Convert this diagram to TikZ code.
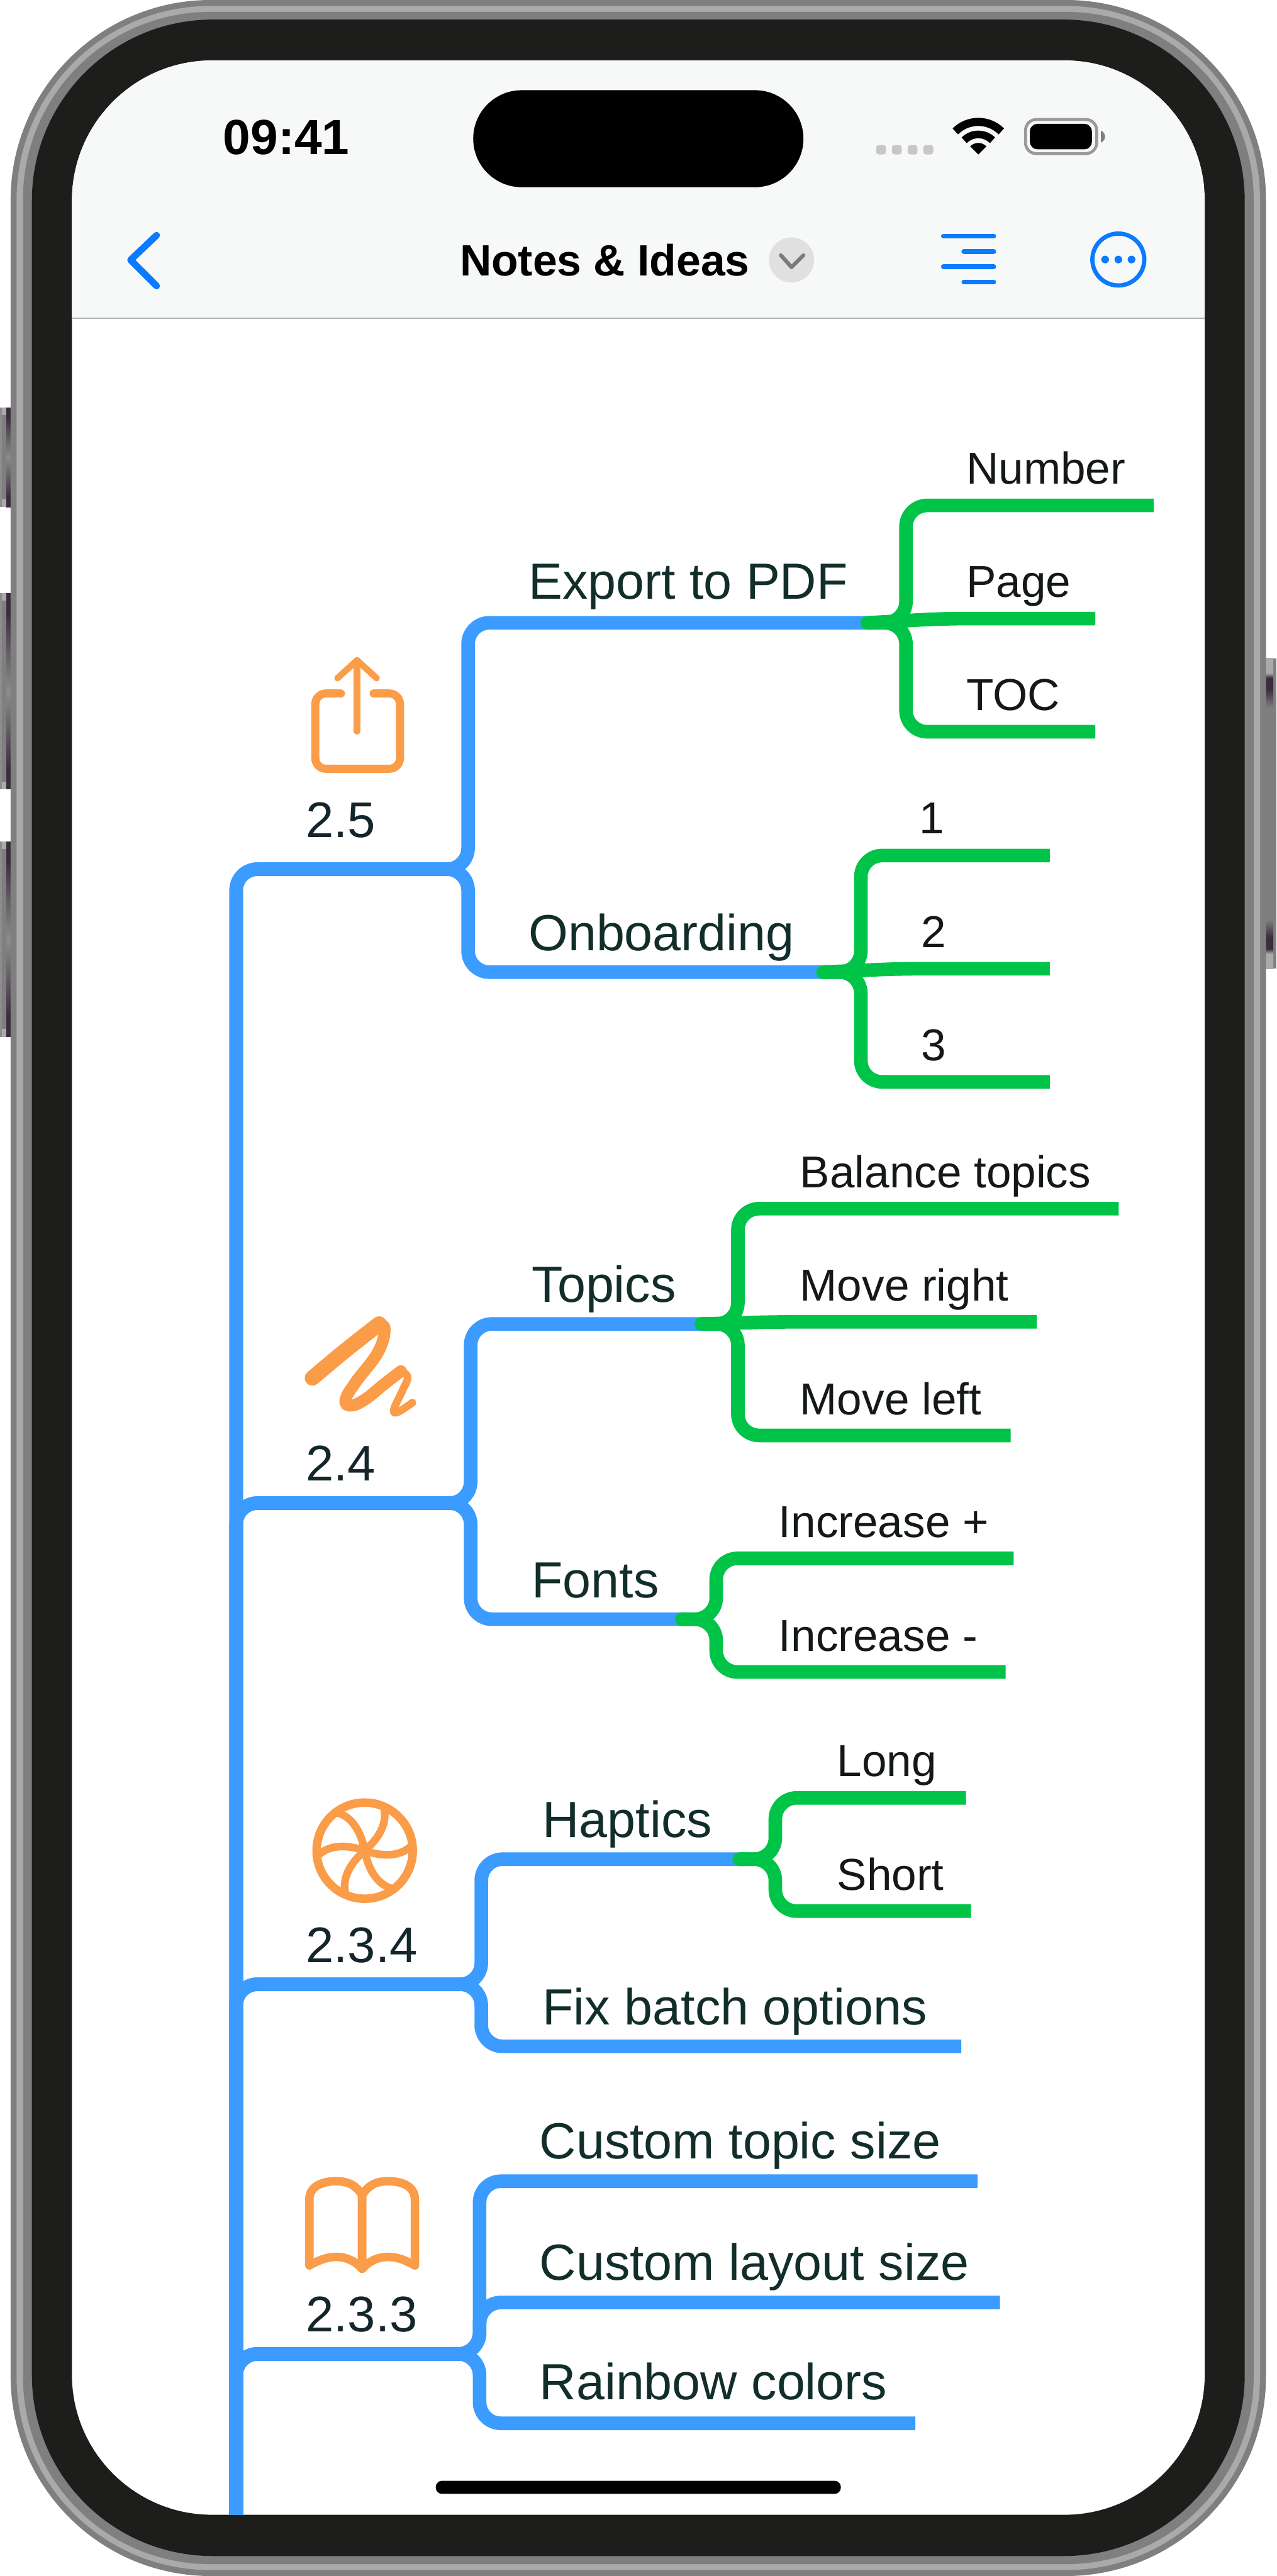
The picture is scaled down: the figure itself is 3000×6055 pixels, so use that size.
\documentclass[tikz,border=0pt]{standalone}
\usepackage{fontspec}
\setmainfont{Liberation Sans}
\definecolor{bodygray}{RGB}{127,127,127}
\definecolor{bodylight}{RGB}{170,170,170}
\definecolor{bezel}{RGB}{29,29,27}
\definecolor{navbg}{RGB}{247,248,248}
\definecolor{iosblue}{RGB}{10,122,255}
\definecolor{mapblue}{RGB}{59,155,255}
\definecolor{mapgreen}{RGB}{0,196,72}
\definecolor{iconorange}{RGB}{250,156,72}
\definecolor{labdark}{RGB}{18,46,42}
\definecolor{subdark}{RGB}{21,24,24}
\definecolor{rootdark}{RGB}{20,38,44}
\definecolor{btndark}{RGB}{58,44,60}
\definecolor{btnmid}{RGB}{140,140,140}
\pgfdeclareverticalshading{leftbtn}{100bp}{color(0bp)=(btndark); color(30bp)=(btndark); color(50bp)=(btnmid); color(70bp)=(btndark); color(100bp)=(btndark)}
\pgfdeclareverticalshading{rightbtn}{100bp}{color(0bp)=(bodylight); color(27.4bp)=(bodylight); color(28.2bp)=(btndark); color(30bp)=(btndark); color(33bp)=(bodygray); color(67bp)=(bodygray); color(70bp)=(btndark); color(71.8bp)=(btndark); color(72.6bp)=(bodylight); color(100bp)=(bodylight)}
\newcommand{\sidebtn}[2]{
  \fill [btnmid] (0,#1) rectangle (25,#2);
  \fill [bodygray] (5,#1) rectangle (15,#2);
  \shade [shading=leftbtn] (15,#1) rectangle (25,#2);
  \fill [bodylight] (5,#1) rectangle (15,#1+18);
  \fill [bodylight] (5,#2-18) rectangle (15,#2);
}
\tikzset{
  bluebranch/.style={line width=3.2mm, mapblue, rounded corners=5mm},
  greenbranch/.style={line width=3.2mm, mapgreen, rounded corners=5mm},
  toplabel/.style={anchor=base west, inner sep=0pt, outer sep=0pt, text=labdark, font=\fontsize{34}{40}\selectfont},
  sublabel/.style={anchor=base west, inner sep=0pt, outer sep=0pt, text=subdark, font=\fontsize{29.9}{36}\selectfont},
  rootlabel/.style={anchor=base west, inner sep=0pt, outer sep=0pt, text=rootdark, font=\fontsize{33.5}{40}\selectfont},
  iconline/.style={line width=1.9mm, iconorange, line cap=round, line join=round},
  navicon/.style={iosblue, line cap=round, line join=round},
}
\begin{document}
\begin{tikzpicture}[x=0.1mm,y=-0.1mm]
\useasboundingbox (0,0) rectangle (3000,6055);
% side buttons
\sidebtn{958}{1192}
\sidebtn{1394}{1855}
\sidebtn{1978}{2437}
\fill [bodygray] (2974,1547) rectangle (3000,2277);
\shade [shading=rightbtn] (2974,1547) rectangle (2992,2277);
% phone body
\fill [bodygray, rounded corners=47mm] (25,0) rectangle (2975,6055);
\fill [bodylight, rounded corners=45.6mm] (39,14) rectangle (2961,6041);
\fill [bodygray, rounded corners=44mm] (54,28) rectangle (2946,6027);
\fill [bezel, rounded corners=42.5mm] (75,46) rectangle (2925,6008);
\fill [white, rounded corners=33mm] (169,142) rectangle (2831,5911);
\begin{scope}
\clip [rounded corners=33mm] (169,142) rectangle (2831,5911);
\fill [navbg] (169,142) rectangle (2831,748);
\draw [line width=0.4mm, black!30] (169,748) -- (2831,748);
\end{scope}
% status bar
\fill [rounded corners=11.4mm] (1112,212) rectangle (1888,440);
\node [anchor=base west, inner sep=0pt, font=\fontsize{33}{38}\selectfont\bfseries] (clock) at (524,363) {09:41};
\foreach \x in {2059,2096,2133,2170}
  \fill [black!22, rounded corners=0.6mm] (\x,341) rectangle (\x+23,363);
\begin{scope}[shift={(2299,363)}]
\draw [line width=1.9mm] (-135:76.5) arc [start angle=-135, end angle=-45, radius=76.5];
\draw [line width=1.8mm] (-135:47) arc [start angle=-135, end angle=-45, radius=47];
\fill (0,0) -- (-135:27) arc [start angle=-135, end angle=-45, radius=27] -- cycle;
\end{scope}
\draw [line width=0.7mm, black!40, rounded corners=2.5mm] (2410,281) rectangle (2577,361);
\fill [rounded corners=1.8mm] (2420,291) rectangle (2566,351);
\fill [black!50] (2587,307) .. controls (2600,312) and (2600,330) .. (2587,335) -- cycle;
% nav bar
\draw [navicon, line width=1.6mm] (368,553) -- (307,611) -- (368,672);
\node [anchor=base west, inner sep=0pt, font=\fontsize{29.3}{35}\selectfont\bfseries] (title) at (1080,648) {Notes \& Ideas};
\fill [black!12] (1860,611) circle (5.3mm);
\draw [line width=0.9mm, black!52, line cap=round, line join=round] (1835,600) -- (1860,628) -- (1888,600);
\draw [navicon, line width=1.15mm] (2217,555) -- (2335,555);
\draw [navicon, line width=1.15mm] (2265,591) -- (2335,591);
\draw [navicon, line width=1.15mm] (2217,627) -- (2335,627);
\draw [navicon, line width=1.15mm] (2265,663) -- (2335,663);
\draw [navicon, line width=1mm] (2628,610) circle (6.1mm);
\fill [iosblue] (2597,610) circle (0.9mm);
\fill [iosblue] (2628,610) circle (0.9mm);
\fill [iosblue] (2659,610) circle (0.9mm);
\fill [rounded corners=1.5mm] (1024,5831) rectangle (1976,5862);
% icons
\draw [iconline, rounded corners=2.5mm] (801,1630) -- (741,1630) -- (741,1807) -- (940,1807) -- (940,1630) -- (878,1630);
\draw [iconline, line width=1.5mm] (839,1719) -- (839,1552);
\draw [iconline, line width=1.5mm] (793,1594) -- (839,1552) -- (885,1594);
\draw [iconline, line width=3.6mm] plot [smooth, tension=0.7] coordinates {(734,3239) (812,3174) (891,3112)};
\draw [iconline, line width=2.8mm] plot [smooth, tension=0.7] coordinates {(891,3112) (904,3125) (888,3179) (835,3250) (812,3290) (824,3304) (857,3290) (902,3254) (942,3223)};
\draw [iconline, line width=1.8mm] plot [smooth, tension=0.7] coordinates {(942,3223) (958,3237) (946,3268) (926,3312) (935,3319) (969,3297)};
\begin{scope}[shift={(857,4350)}]
\draw [iconline, line width=2mm] (0,0) circle (11.3mm);
\foreach \a in {0,60,...,300}
  \draw [iconline, line width=1.8mm, rotate=\a] (0,0) .. controls (40,14) and (85,16) .. (112,-14);
\end{scope}
\foreach \s in {1,-1}
  \draw [iconline, line width=2mm, shift={(851,0)}, xscale=\s] (0,5160) .. controls (-13,5138) and (-31,5127) .. (-61,5127) .. controls (-96,5127) and (-124,5140) .. (-124,5170) -- (-124,5325) .. controls (-106,5315) and (-86,5305) .. (-61,5305) .. controls (-36,5305) and (-16,5315) .. (0,5333) -- cycle;
% map nodes
\node [rootlabel] (n25) at (719,1969) {2.5};
\node [rootlabel] (n24) at (719,3480) {2.4};
\node [rootlabel] (n234) at (719,4613) {2.3.4};
\node [rootlabel] (n233) at (719,5480) {2.3.3};
\node [toplabel] (export) at (1242,1408) {Export to PDF};
\node [toplabel] (onboard) at (1242,2234) {Onboarding};
\node [toplabel] (topics) at (1250,3060) {Topics};
\node [toplabel] (fonts) at (1250,3755) {Fonts};
\node [toplabel] (haptics) at (1275,4319) {Haptics};
\node [toplabel] (fix) at (1275,4759) {Fix batch options};
\node [toplabel] (ctopic) at (1268,5074) {Custom topic size};
\node [toplabel] (clayout) at (1268,5360) {Custom layout size};
\node [toplabel] (rainbow) at (1268,5640) {Rainbow colors};
\node [sublabel] (number) at (2271,1137) {Number};
\node [sublabel] (page) at (2271,1403) {Page};
\node [sublabel] (toc) at (2271,1669) {TOC};
\node [sublabel] (one) at (2160,1959) {1};
\node [sublabel] (two) at (2165,2227) {2};
\node [sublabel] (three) at (2165,2493) {3};
\node [sublabel] (balance) at (1880,2792) {Balance topics};
\node [sublabel] (mright) at (1880,3058) {Move right};
\node [sublabel] (mleft) at (1880,3325) {Move left};
\node [sublabel] (incplus) at (1830,3614) {Increase +};
\node [sublabel] (incminus) at (1830,3881) {Increase -};
\node [sublabel] (long) at (1967,4175) {Long};
\node [sublabel] (short) at (1967,4443) {Short};
% branch points
\coordinate (base) at (555,5911);
\coordinate (j25) at (1100,2043);
\coordinate (j24) at (1106,3533);
\coordinate (j234) at (1131,4664);
\coordinate (j233) at (1127,5533);
\coordinate (exportEnd) at (2050,1464);
\coordinate (onboardEnd) at (1946,2285);
\coordinate (topicsEnd) at (1660,3112);
\coordinate (fontsEnd) at (1615,3806);
\coordinate (hapticsEnd) at (1750,4370);
\coordinate (fixEnd) at (2259,4810);
\coordinate (ctopicEnd) at (2297,5127);
\coordinate (clayoutEnd) at (2350,5412);
\coordinate (rainbowEnd) at (2151,5696);
% blue branches
\draw [bluebranch] (base) |- (j25) |- (exportEnd);
\draw [bluebranch] (base) |- (j25) |- (onboardEnd);
\draw [bluebranch] (base) |- (j24) |- (topicsEnd);
\draw [bluebranch] (base) |- (j24) |- (fontsEnd);
\draw [bluebranch] (base) |- (j234) |- (hapticsEnd);
\draw [bluebranch] (base) |- (j234) |- (fixEnd);
\draw [bluebranch] (base) |- (j233) |- (ctopicEnd);
\draw [bluebranch] (base) |- (j233) |- (clayoutEnd);
\draw [bluebranch] (base) |- (j233) |- (rainbowEnd);
% green branches
\coordinate (sExport) at (2038,1464);
\coordinate (gExport) at (2129,1464);
\coordinate (pageMid) at (2216,1454);
\coordinate (numberEnd) at (2711,1188);
\coordinate (pageEnd) at (2574,1454);
\coordinate (tocEnd) at (2574,1720);
\fill [mapgreen] (sExport) circle (1.6mm);
\draw [greenbranch] (sExport) -- (gExport) |- (numberEnd);
\draw [greenbranch] (sExport) -- (gExport) |- (tocEnd);
\draw [greenbranch] (sExport) -- (pageMid) -- (pageEnd);
\coordinate (sOnboard) at (1934,2285);
\coordinate (gOnboard) at (2023,2285);
\coordinate (twoMid) at (2112,2277);
\coordinate (oneEnd) at (2467,2011);
\coordinate (twoEnd) at (2467,2277);
\coordinate (threeEnd) at (2467,2543);
\fill [mapgreen] (sOnboard) circle (1.6mm);
\draw [greenbranch] (sOnboard) -- (gOnboard) |- (oneEnd);
\draw [greenbranch] (sOnboard) -- (gOnboard) |- (threeEnd);
\draw [greenbranch] (sOnboard) -- (twoMid) -- (twoEnd);
\coordinate (sTopics) at (1648,3112);
\coordinate (gTopics) at (1734,3112);
\coordinate (rightMid) at (1825,3107);
\coordinate (balanceEnd) at (2629,2841);
\coordinate (rightEnd) at (2436,3107);
\coordinate (leftEnd) at (2375,3374);
\fill [mapgreen] (sTopics) circle (1.6mm);
\draw [greenbranch] (sTopics) -- (gTopics) |- (balanceEnd);
\draw [greenbranch] (sTopics) -- (gTopics) |- (leftEnd);
\draw [greenbranch] (sTopics) -- (rightMid) -- (rightEnd);
\coordinate (sFonts) at (1602,3806);
\coordinate (gFonts) at (1683,3806);
\coordinate (plusEnd) at (2382,3663);
\coordinate (minusEnd) at (2363,3930);
\fill [mapgreen] (sFonts) circle (1.6mm);
\draw [greenbranch] (sFonts) -- (gFonts) |- (plusEnd);
\draw [greenbranch] (sFonts) -- (gFonts) |- (minusEnd);
\coordinate (sHaptics) at (1737,4370);
\coordinate (gHaptics) at (1822,4370);
\coordinate (longEnd) at (2270,4226);
\coordinate (shortEnd) at (2282,4492);
\fill [mapgreen] (sHaptics) circle (1.6mm);
\draw [greenbranch] (sHaptics) -- (gHaptics) |- (longEnd);
\draw [greenbranch] (sHaptics) -- (gHaptics) |- (shortEnd);
\end{tikzpicture}
\end{document}
